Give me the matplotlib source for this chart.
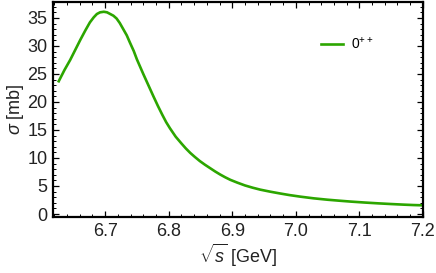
import matplotlib
matplotlib.use("Agg")
import matplotlib.pyplot as plt
from matplotlib.ticker import MultipleLocator

sqrt_s = [6.627, 6.636, 6.645, 6.653, 6.661, 6.669, 6.676, 6.682, 6.687, 6.692,
          6.698, 6.703, 6.708, 6.713, 6.718, 6.723, 6.728, 6.734, 6.739, 6.745,
          6.750, 6.755, 6.760, 6.768, 6.776, 6.783, 6.790, 6.796, 6.802, 6.811,
          6.820, 6.827, 6.834, 6.841, 6.849, 6.857, 6.865, 6.873, 6.881, 6.889,
          6.897, 6.908, 6.920, 6.932, 6.944, 6.960, 6.975, 6.990, 7.007, 7.028,
          7.050, 7.068, 7.086, 7.108, 7.130, 7.150, 7.170, 7.185, 7.200]
sigma = [23.7, 25.7, 27.5, 29.3, 31.1, 32.8, 34.2, 35.1, 35.7, 36.0,
         36.1, 36.0, 35.7, 35.4, 34.9, 34.1, 33.1, 31.9, 30.6, 29.1,
         27.6, 26.3, 25.0, 23.0, 21.0, 19.3, 17.7, 16.4, 15.3, 13.8,
         12.6, 11.7, 10.9, 10.2, 9.45, 8.8, 8.2, 7.6, 7.05, 6.55,
         6.1, 5.6, 5.1, 4.7, 4.35, 3.98, 3.67, 3.38, 3.1, 2.8,
         2.55, 2.38, 2.22, 2.05, 1.9, 1.78, 1.67, 1.6, 1.55]
series_label = r"$0^{++}$"
xticks = [6.7, 6.8, 6.9, 7.0, 7.1, 7.2]
yticks = [0, 5, 10, 15, 20, 25, 30, 35]

plt.rcParams['font.family'] = ['Liberation Sans', 'DejaVu Sans']
plt.rcParams['mathtext.fontset'] = 'custom'
plt.rcParams['mathtext.rm'] = 'Liberation Sans'
plt.rcParams['mathtext.it'] = 'Liberation Sans:italic'

fig = plt.figure(figsize=(4.36, 2.73), dpi=100)
ax = fig.add_axes([0.1216, 0.205, 0.970 - 0.1216, 0.993 - 0.205])
ax.plot(sqrt_s, sigma, color='#2ca600', lw=1.9, label=series_label,
        solid_joinstyle='round')
ax.set_xlim(6.618, 7.2)
ax.set_ylim(-0.54, 37.86)
ax.set_xticks(xticks)
ax.set_xticklabels([f"{v:.1f}" for v in xticks])
ax.set_yticks(yticks)
ax.xaxis.set_minor_locator(MultipleLocator(0.02))
ax.yaxis.set_minor_locator(MultipleLocator(1))
ax.tick_params(which='both', direction='in', top=True, right=True,
               labelsize=13, labelcolor='#222222', pad=4)
ax.tick_params(which='major', length=4, width=0.9)
ax.tick_params(which='minor', length=2, width=0.7)
for s in ax.spines.values():
    s.set_linewidth(1.6)
ax.set_xlabel(r"$\sqrt{s}$ [GeV]", fontsize=13, color='#222222', labelpad=2)
ax.set_ylabel(r"$\sigma$ [mb]", fontsize=13, color='#222222', labelpad=1)
ax.legend(loc='upper left', bbox_to_anchor=(0.69, 0.90), frameon=False,
          fontsize=10, handlelength=1.6, handletextpad=0.6)
fig.savefig("out.png", dpi=100)
